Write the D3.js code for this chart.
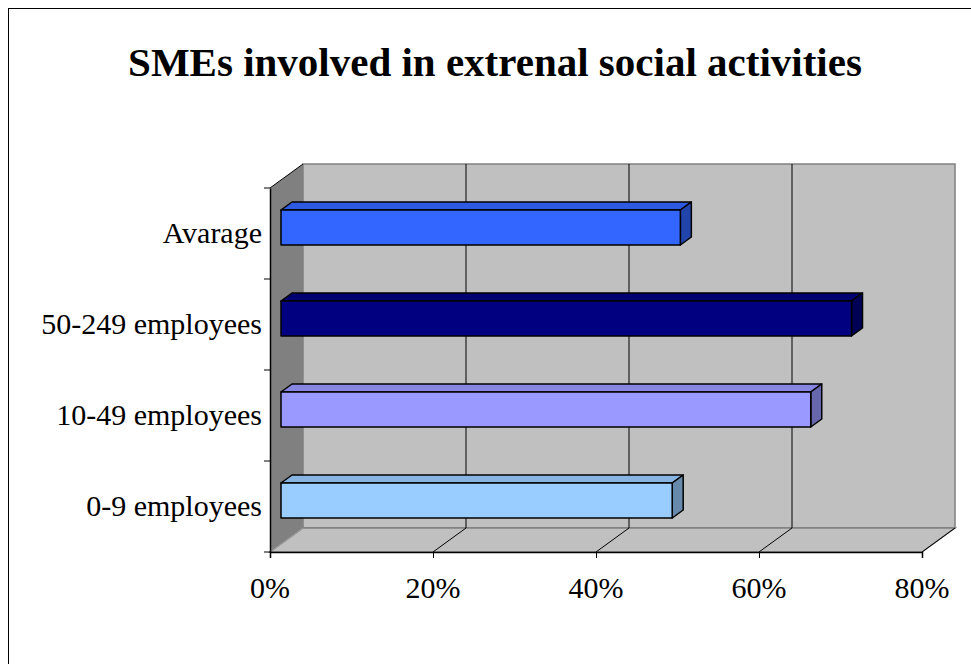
<!DOCTYPE html>
<html>
<head>
<meta charset="utf-8">
<script src="https://cdn.jsdelivr.net/npm/d3@7"></script>
<style>
  html, body { margin: 0; padding: 0; background: #fff; }
  svg { display: block; }
  text { font-family: "Liberation Serif", "Times New Roman", serif; fill: #000; }
</style>
</head>
<body>
<svg id="chart" width="971" height="664"></svg>
<script>
// Data
const title = "SMEs involved in extrenal social activities";
const categories = ["0-9 employees", "10-49 employees", "50-249 employees", "Avarage"];
const values = [0.48, 0.65, 0.70, 0.49];
const barColors = ["#99CCFF", "#9999FF", "#000080", "#3366FF"];
const tickValues = [0, 0.2, 0.4, 0.6, 0.8];
const tickLabels = ["0%", "20%", "40%", "60%", "80%"];

const svg = d3.select("#chart");

// Outer frame
svg.append("rect")
  .attr("x", 8.5).attr("y", 8.5)
  .attr("width", 1000).attr("height", 1000)
  .attr("fill", "#fff").attr("stroke", "#000").attr("stroke-width", 1);

// Title
svg.append("text")
  .attr("x", 495).attr("y", 76)
  .attr("text-anchor", "middle")
  .attr("font-size", 41).attr("font-weight", "bold")
  .text(title);

// Front plane geometry and depth projection
const x = d3.scaleLinear().domain([0, 0.8]).range([270, 922]);
const y = d3.scaleBand().domain(categories).range([554, 190])
  .paddingInner(0.615).paddingOuter(0.3075);
const yStep = d3.scaleBand().domain(categories).range([552, 188]);
const depthDX = 33, depthDY = -24;
const P = (px, py, d) => [px + depthDX * d, py + depthDY * d];

const x0 = x.range()[0], x1 = x.range()[1];
const yTop = 188, yBot = 552;

// Walls
const wallStroke = "#808080";
// Left side wall
svg.append("polygon")
  .attr("points", [P(x0, yTop, 0), P(x0, yTop, 1), P(x0, yBot, 1), P(x0, yBot, 0)].join(" "))
  .attr("fill", "#808080").attr("stroke", "none");
// Back wall
svg.append("polygon")
  .attr("points", [P(x0, yTop, 1), P(x1, yTop, 1), P(x1, yBot, 1), P(x0, yBot, 1)].join(" "))
  .attr("fill", "#C0C0C0").attr("stroke", wallStroke).attr("stroke-width", 1.5);
// Floor
svg.append("polygon")
  .attr("points", [P(x0, yBot, 0), P(x1, yBot, 0), P(x1, yBot, 1), P(x0, yBot, 1)].join(" "))
  .attr("fill", "#C0C0C0").attr("stroke", wallStroke).attr("stroke-width", 1.5);
// Left wall top/bottom edges
svg.append("line")
  .attr("x1", P(x0, yTop, 0)[0]).attr("y1", P(x0, yTop, 0)[1])
  .attr("x2", P(x0, yTop, 1)[0]).attr("y2", P(x0, yTop, 1)[1])
  .attr("stroke", "#000").attr("stroke-width", 1);
svg.append("line")
  .attr("x1", P(x0, yBot, 0)[0]).attr("y1", P(x0, yBot, 0)[1])
  .attr("x2", P(x0, yBot, 1)[0]).attr("y2", P(x0, yBot, 1)[1])
  .attr("stroke", "#A0A0A0").attr("stroke-width", 1);

// Gridlines on back wall and floor
tickValues.slice(1).forEach(v => {
  const a = P(x(v), yTop, 1), b = P(x(v), yBot, 1), c = P(x(v), yBot, 0);
  if (v < 0.8) {
    svg.append("line").attr("x1", a[0]).attr("y1", a[1]).attr("x2", b[0]).attr("y2", b[1])
      .attr("stroke", "#000").attr("stroke-width", 1);
  }
  svg.append("line").attr("x1", b[0]).attr("y1", b[1]).attr("x2", c[0]).attr("y2", c[1])
    .attr("stroke", "#000").attr("stroke-width", 1);
});

// 3D bars (depth from 1/3 to 2/3)
const dFront = 1 / 3, dBack = 2 / 3;
const bars = svg.append("g");
categories.forEach((cat, i) => {
  const base = d3.color(barColors[i]);
  const top = base.darker(0.35);
  const side = base.darker(1.1);
  const yt = y(cat), yb = y(cat) + y.bandwidth();
  const xl = x(0), xr = x(values[i]);
  const g = bars.append("g").attr("stroke", "#000").attr("stroke-width", 1.5).attr("stroke-linejoin", "round");
  // top face
  g.append("polygon")
    .attr("points", [P(xl, yt, dFront), P(xr, yt, dFront), P(xr, yt, dBack), P(xl, yt, dBack)].join(" "))
    .attr("fill", top.formatHex());
  // right side face
  g.append("polygon")
    .attr("points", [P(xr, yt, dFront), P(xr, yt, dBack), P(xr, yb, dBack), P(xr, yb, dFront)].join(" "))
    .attr("fill", side.formatHex());
  // front face
  const f0 = P(xl, yt, dFront), f1 = P(xr, yb, dFront);
  g.append("rect")
    .attr("x", f0[0]).attr("y", f0[1])
    .attr("width", f1[0] - f0[0]).attr("height", f1[1] - f0[1])
    .attr("fill", base.formatHex());
});

// Vertical (category) axis
const yAxis = d3.axisLeft(yStep).tickSize(0).tickFormat("");
const gy = svg.append("g").attr("transform", `translate(${x0},0)`).call(yAxis);
gy.select(".domain").attr("stroke", "#000").attr("stroke-width", 1.5);
// tick marks at band boundaries
const boundaries = categories.map(c => yStep(c)).concat([yStep.range()[0]]);
gy.selectAll("line.bound").data(boundaries).join("line")
  .attr("class", "bound")
  .attr("x1", -6).attr("x2", 0)
  .attr("y1", d => d).attr("y2", d => d)
  .attr("stroke", "#000").attr("stroke-width", 1);
// category labels
svg.append("g").selectAll("text").data(categories).join("text")
  .attr("x", 262)
  .attr("y", d => yStep(d) + yStep.bandwidth() / 2 + 3)
  .attr("text-anchor", "end")
  .attr("dominant-baseline", "middle")
  .attr("font-size", 30)
  .text(d => d);

// Horizontal (value) axis
const xAxis = d3.axisBottom(x).tickValues(tickValues).tickSize(6).tickFormat("");
const gx = svg.append("g").attr("transform", `translate(0,${yBot})`).call(xAxis);
gx.select(".domain").attr("stroke", "#000").attr("stroke-width", 1.5);
gx.selectAll(".tick line").attr("stroke", "#000");
svg.append("g").selectAll("text").data(tickValues).join("text")
  .attr("x", d => x(d))
  .attr("y", 598)
  .attr("text-anchor", "middle")
  .attr("font-size", 30)
  .text((d, i) => tickLabels[i]);
</script>
</body>
</html>
